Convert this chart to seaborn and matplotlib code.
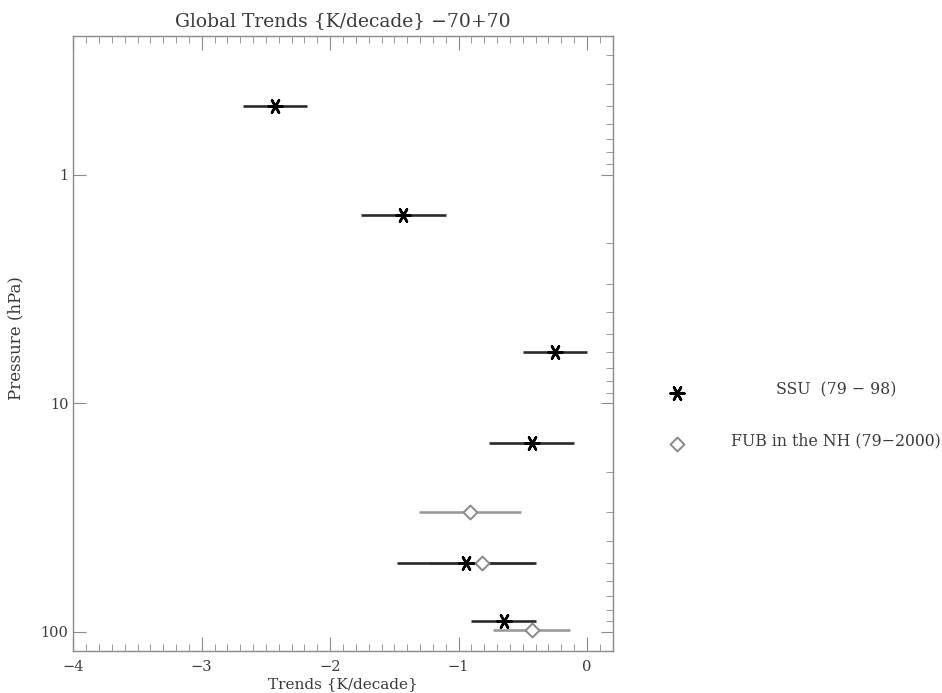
import numpy as np
import pandas as pd
import matplotlib
matplotlib.use("Agg")
import matplotlib.pyplot as plt
import matplotlib.ticker as mticker
import seaborn as sns

# datos
ssu_pres = [0.5, 1.5, 6.0, 15.0, 50.0, 90.0]
ssu_trend = [-2.43, -1.43, -0.25, -0.43, -0.94, -0.65]
ssu_err = [0.25, 0.33, 0.25, 0.33, 0.54, 0.25]

fub_pres = [30.0, 50.0, 98.0]
fub_trend = [-0.91, -0.82, -0.43]
fub_err = [0.40, 0.41, 0.30]

xticks = [-4, -3, -2, -1, 0]
yticks = [1, 10, 100]

ssu = pd.DataFrame({"trend": ssu_trend, "pres": ssu_pres, "err": ssu_err})
fub = pd.DataFrame({"trend": fub_trend, "pres": fub_pres, "err": fub_err})

sns.set_style("ticks")
plt.rcParams["font.family"] = ["DejaVu Serif"]

gris = "#8a8a8a"
texto = "#3a3a3a"
asterisco = (6, 2, 30)
fig = plt.figure(figsize=(9.42, 6.93), dpi=100)
ax = fig.add_axes([0.0778, 0.061, 0.5726, 0.8875])

# barras de error
ax.errorbar(fub["trend"], fub["pres"], xerr=fub["err"], fmt="none",
            ecolor="#9a9a9a", elinewidth=1.9, capsize=0, zorder=2)
ax.errorbar(ssu["trend"], ssu["pres"], xerr=ssu["err"], fmt="none",
            ecolor="#2a2a2a", elinewidth=1.9, capsize=0, zorder=3)

# marcadores
sns.scatterplot(data=fub, x="trend", y="pres", ax=ax, marker="D", s=50,
                facecolor="white", edgecolor=gris, linewidth=1.4, zorder=4)
sns.scatterplot(data=ssu, x="trend", y="pres", ax=ax, marker=asterisco, s=100,
                color="black", linewidth=1.8, zorder=5)

ax.set_yscale("log")
ax.set_xlim(-4, 0.2)
ax.set_ylim(121, 0.247)
ax.set_xticks(xticks)
ax.set_xticklabels([str(t).replace("-", "\u2212") for t in xticks])
ax.xaxis.set_minor_locator(mticker.MultipleLocator(0.1))
ax.set_yticks(yticks)
ax.set_yticklabels([str(t) for t in yticks])
ax.yaxis.set_minor_locator(mticker.LogLocator(base=10, subs=np.arange(2, 10)))
ax.yaxis.set_minor_formatter(mticker.NullFormatter())

ax.tick_params(axis="x", which="both", direction="in", top=True, bottom=True,
               colors=gris, labelcolor=texto, labelsize=10.5)
ax.tick_params(axis="x", which="major", length=10, pad=7)
ax.tick_params(axis="x", which="minor", length=5)
ax.tick_params(axis="y", which="major", direction="in", left=True, right=True,
               length=9, colors=gris, labelcolor=texto, labelsize=10.5)
ax.tick_params(axis="y", which="minor", direction="in", left=False, right=True,
               length=5, colors=gris)
for s in ax.spines.values():
    s.set_color(gris)
    s.set_linewidth(1)

ax.set_title("Global Trends {K/decade} \u221270+70", fontsize=13.5, color=texto, pad=7)
ax.set_xlabel("Trends {K/decade}", fontsize=11, color=texto, labelpad=2)
ax.set_ylabel("Pressure (hPa)", fontsize=12, color=texto)
ax.yaxis.set_label_coords(-0.091, 0.508)

# leyenda a la derecha
lax = fig.add_axes([0.66, 0.3, 0.34, 0.2])
lax.set_xlim(0, 1)
lax.set_ylim(0, 1)
lax.axis("off")
ley = pd.DataFrame({"x": [0.173, 0.173], "y": [0.664, 0.296]})
sns.scatterplot(data=ley.iloc[[0]], x="x", y="y", ax=lax, marker=asterisco, s=100,
                color="black", linewidth=1.8)
sns.scatterplot(data=ley.iloc[[1]], x="x", y="y", ax=lax, marker="D", s=50,
                facecolor="white", edgecolor=gris, linewidth=1.4)
lax.text(0.669, 0.664 + 0.025, "SSU  (79 \u2212 98)", ha="center", va="center",
         fontsize=11.3, color=texto)
lax.text(0.669, 0.296 + 0.025, "FUB in the NH (79\u22122000)", ha="center", va="center",
         fontsize=11.3, color=texto)
lax.set_xlabel("")
lax.set_ylabel("")

fig.savefig("out.png", dpi=100)
